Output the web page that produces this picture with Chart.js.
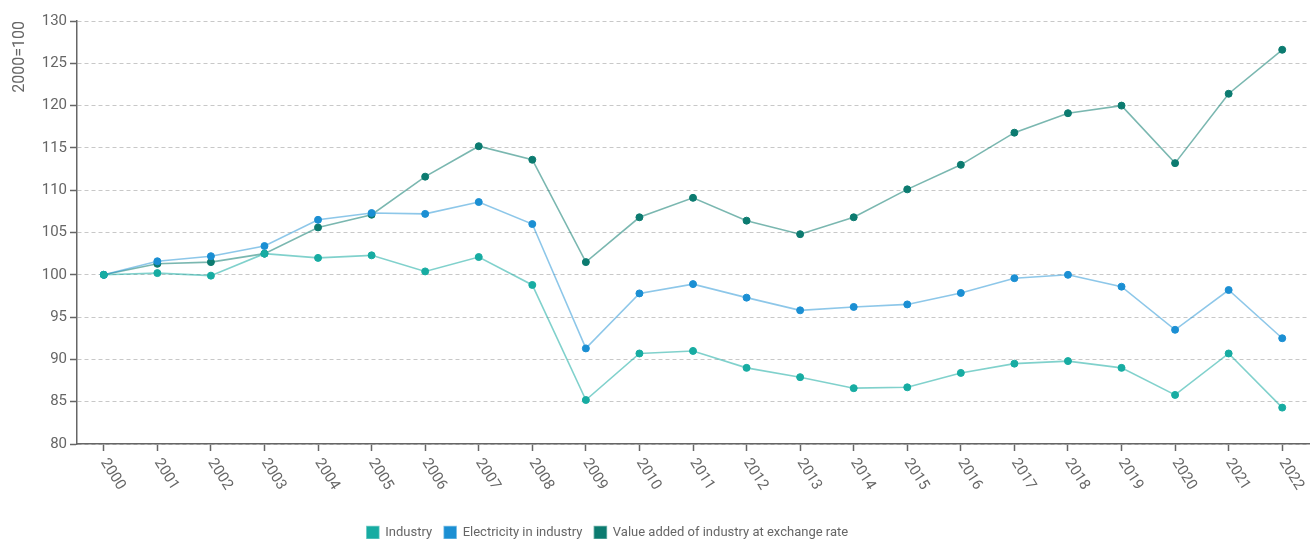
<!DOCTYPE html>
<html>
<head>
<meta charset="utf-8">
<script src="https://cdn.jsdelivr.net/npm/chart.js@4.4.1/dist/chart.umd.min.js"></script>
<style>
  html, body { margin: 0; padding: 0; background: #fff; }
  #wrap { width: 1314px; height: 539px; position: relative; }
</style>
</head>
<body>
<div id="wrap"><canvas id="chart"></canvas></div>
<script>
const years = ["2000", "2001", "2002", "2003", "2004", "2005", "2006", "2007", "2008", "2009", "2010",
  "2011", "2012", "2013", "2014", "2015", "2016", "2017", "2018", "2019", "2020", "2021", "2022"];
const industry = [100, 100.2, 99.9, 102.5, 102.0, 102.3, 100.4, 102.1, 98.8, 85.2, 90.7,
  91.0, 89.0, 87.9, 86.6, 86.7, 88.4, 89.5, 89.8, 89.0, 85.8, 90.7, 84.3];
const electricity = [100, 101.6, 102.2, 103.4, 106.5, 107.3, 107.2, 108.6, 106.0, 91.3, 97.8,
  98.9, 97.3, 95.8, 96.2, 96.5, 97.85, 99.6, 100.0, 98.6, 93.5, 98.2, 92.5];
const valueAdded = [100, 101.3, 101.5, 102.5, 105.6, 107.1, 111.6, 115.2, 113.6, 101.5, 106.8,
  109.1, 106.4, 104.8, 106.8, 110.1, 113.0, 116.8, 119.1, 120.0, 113.2, 121.4, 126.6];
const seriesNames = ["Industry", "Electricity in industry", "Value added of industry at exchange rate"];
const yTitle = "2000=100";

const textGray = "#666";

function makeSet(label, data, point, line) {
  return {
    label: label,
    data: data,
    borderColor: line,
    backgroundColor: point,
    pointBackgroundColor: point,
    pointBorderColor: point,
    pointRadius: 3.5,
    pointBorderWidth: 1,
    borderWidth: 1.6,
    tension: 0
  };
}

// rotated year labels, drawn from the x scale's own tick positions
const yearLabels = {
  id: "yearLabels",
  afterDraw(chart) {
    const x = chart.scales.x;
    const ctx = chart.ctx;
    ctx.save();
    ctx.font = "15px Roboto";
    ctx.fillStyle = textGray;
    ctx.textAlign = "left";
    ctx.textBaseline = "middle";
    years.forEach((y, i) => {
      ctx.save();
      ctx.translate(x.getPixelForTick(i), x.top + 16);
      ctx.rotate(58 * Math.PI / 180);
      ctx.fillText(y, 0, 0);
      ctx.restore();
    });
    ctx.restore();
  }
};

// legend sits a little left of centre and lower in the reference
const legendShift = {
  id: "legendShift",
  afterLayout(chart) {
    const lg = chart.legend;
    lg.left -= 51;
    lg.right -= 51;
    lg.top += 10;
    lg.bottom += 10;
  }
};

new Chart(document.getElementById("chart"), {
  type: "line",
  data: {
    labels: years,
    datasets: [
      makeSet(seriesNames[0], industry, "#17aca2", "rgba(23,172,162,0.55)"),
      makeSet(seriesNames[1], electricity, "#1b8fd3", "rgba(27,143,211,0.5)"),
      makeSet(seriesNames[2], valueAdded, "#0c7b70", "rgba(12,123,112,0.55)")
    ]
  },
  options: {
    responsive: true,
    maintainAspectRatio: false,
    animation: false,
    layout: { padding: { top: 21, right: 2, bottom: 0, left: 5 } },
    plugins: {
      legend: {
        position: "bottom",
        labels: {
          boxWidth: 12,
          boxHeight: 12,
          padding: 12,
          color: textGray,
          font: { family: "Roboto", size: 13 }
        }
      },
      tooltip: { enabled: false }
    },
    scales: {
      x: {
        offset: true,
        grid: {
          drawOnChartArea: false,
          drawTicks: true,
          offset: false,
          tickLength: 7,
          tickColor: "#666",
          tickWidth: 1.5
        },
        border: { color: "#666", width: 1.5 },
        ticks: { display: false },
        afterFit(scale) { scale.height = 60; }
      },
      y: {
        min: 80,
        max: 130,
        ticks: {
          stepSize: 5,
          color: textGray,
          padding: 3,
          font: { family: "Roboto", size: 15 }
        },
        grid: {
          color: "#c8c8c8",
          lineWidth: 1,
          tickColor: "#666",
          tickLength: 7,
          tickWidth: 1.5,
          tickBorderDash: []
        },
        border: { color: "#666", width: 1.5, dash: [4, 3] },
        title: {
          display: true,
          text: yTitle,
          align: "end",
          color: textGray,
          padding: { top: 5, bottom: 4 },
          font: { family: "Roboto", size: 16 }
        },
        afterFit(scale) { scale.width = 72; }
      }
    }
  },
  plugins: [yearLabels, legendShift]
});
</script>
</body>
</html>
